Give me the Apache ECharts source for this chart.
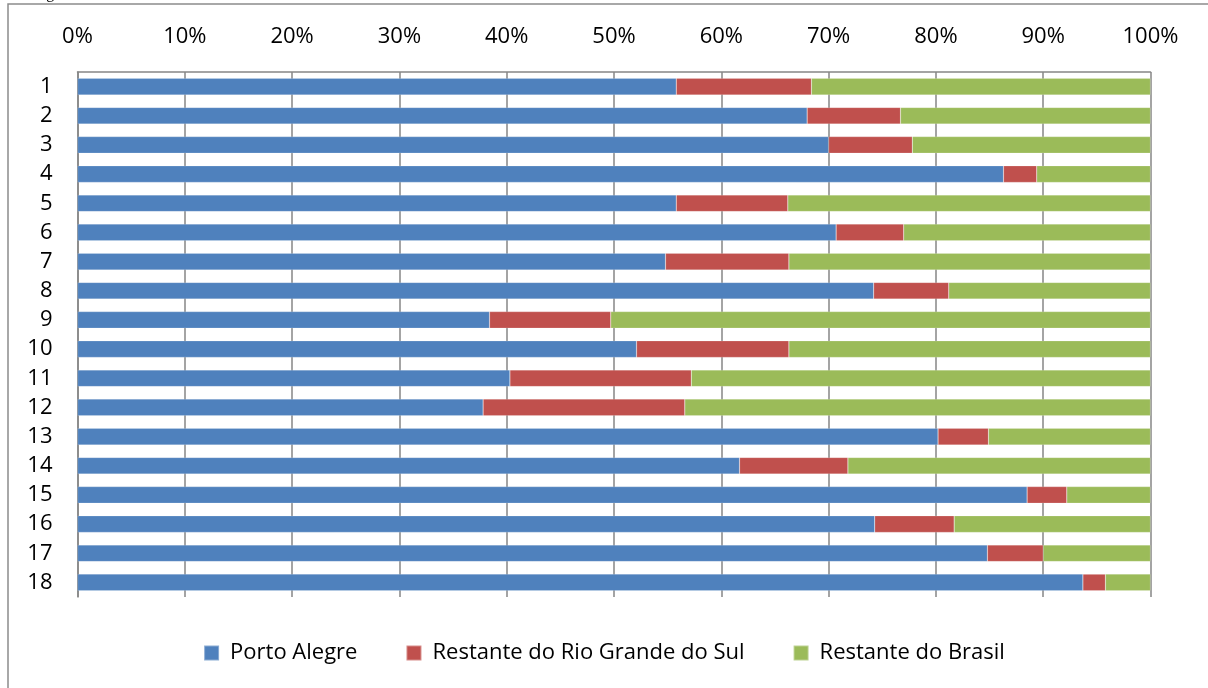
<!DOCTYPE html>
<html>
<head>
<meta charset="utf-8">
<script src="https://cdn.jsdelivr.net/npm/echarts@6/dist/echarts.min.js"></script>
<style>
html,body{margin:0;padding:0;background:#fff;}
#chart{width:1208px;height:688px;}
</style>
</head>
<body>
<div id="chart"></div>
<script>
const categories = ['1','2','3','4','5','6','7','8','9','10','11','12','13','14','15','16','17','18'];
const seriesNames = ['Porto Alegre','Restante do Rio Grande do Sul','Restante do Brasil'];
const portoAlegre = [55.8,68.0,70.0,86.3,55.8,70.7,54.8,74.2,38.4,52.1,40.3,37.8,80.2,61.7,88.5,74.3,84.8,93.7];
const restanteRS  = [12.6, 8.7, 7.8, 3.1,10.4, 6.3,11.5, 7.0,11.3,14.2,16.9,18.8, 4.7,10.1, 3.7, 7.4, 5.2, 2.1];
const restanteBR  = [31.6,23.3,22.2,10.6,33.8,23.0,33.7,18.8,50.3,33.7,42.8,43.4,15.1,28.2, 7.8,18.3,10.0, 4.2];
const colors = ['#4F81BD','#C0504D','#9BBB59'];
const FONT = 'Open Sans';

const chart = echarts.init(document.getElementById('chart'), null, {renderer:'canvas'});
const valuesList = [portoAlegre, restanteRS, restanteBR];
chart.setOption({
  animation:false,
  backgroundColor:'#fff',
  textStyle:{fontFamily:FONT},
  graphic:[
    {type:'rect', shape:{x:8, y:4, width:1300, height:800}, style:{fill:'none', stroke:'#8c8c8c', lineWidth:1.5}, silent:true, z:-1},
    {type:'text', x:33, y:-14, style:{text:'Figura', font:'16px "Liberation Serif"', fill:'#000'}, silent:true}
  ],
  grid:{left:77.5, right:57.5, top:72, bottom:91, containLabel:false},
  xAxis:{
    type:'value', position:'top', min:0, max:100, interval:10,
    axisLabel:{formatter:'{value}%', color:'#000', fontSize:22, fontFamily:FONT, margin:24},
    axisLine:{show:true, lineStyle:{color:'#868686', width:1.5}},
    axisTick:{show:false},
    splitLine:{show:true, lineStyle:{color:'#868686', width:1.5}}
  },
  yAxis:{
    type:'category', inverse:true, data:categories,
    axisLabel:{color:'#000', fontSize:22, fontFamily:FONT, margin:25},
    axisLine:{show:true, lineStyle:{color:'#868686', width:1.5}},
    axisTick:{show:false},
    splitLine:{show:false}
  },
  legend:{
    bottom:19, left:'center', itemWidth:15, itemHeight:15, itemGap:48,
    icon:'rect',
    textStyle:{color:'#000', fontSize:22, fontFamily:FONT, padding:[0,0,0,6]},
    data:seriesNames
  },
  series: seriesNames.map((name,i)=>({
    name, type:'bar', stack:'total', data:valuesList[i],
    barWidth:'57%',
    itemStyle:{color:colors[i], borderColor:'rgba(255,255,255,0.35)', borderWidth:0.5},
    emphasis:{disabled:true}
  }))
});
</script>
</body>
</html>
